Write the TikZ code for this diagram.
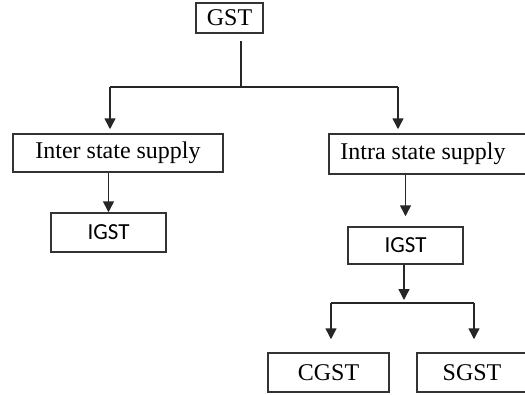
\documentclass[tikz,border=0pt]{standalone}
\usepackage{fontspec}
\setmainfont{Liberation Serif}
\newfontfamily\calfont{Carlito}
\usetikzlibrary{arrows.meta}
\begin{document}
\begin{tikzpicture}[x=1pt,y=-1pt,
  box/.style={draw=black!80,line width=1.5pt,inner sep=0pt,font=\fontsize{24}{27}\selectfont},
  sbox/.style={box,font=\calfont\fontsize{23}{26}\selectfont},
  conn/.style={line width=1.5pt,draw=black!85},
  arr/.style={conn,-{Triangle[length=11pt,width=11pt]}}]
\useasboundingbox (0,0) rectangle (525,394);
\fill[white] (0,0) rectangle (525,394);
\node[box,minimum width=67pt,minimum height=30pt] (gst) at (229.5,18) {GST};
\node[box,minimum width=210pt,minimum height=38pt] (inter) at (118,153) {Inter state supply};
\node[box,minimum width=198pt,minimum height=40pt] (intra) at (428,154) {\hspace*{-10pt}Intra state supply};
\node[sbox,minimum width=115pt,minimum height=39pt] (igsta) at (108.5,232.5) {IGST};
\node[sbox,minimum width=115pt,minimum height=37pt] (igstb) at (405.5,245.5) {IGST};
\node[box,minimum width=121pt,minimum height=39pt] (cgst) at (328.5,372.5) {CGST};
\node[box,minimum width=110pt,minimum height=39pt] (sgst) at (472,372.5) {SGST};
\coordinate (j1) at (241,87);
\coordinate (jl) at (110,87);
\coordinate (jr) at (398,87);
\coordinate (j2) at (404,303);
\coordinate (j2l) at (331,303);
\coordinate (j2r) at (474,303);
\draw[conn,shorten <=7pt] (gst.south -| j1) -- (j1);
\draw[conn] (jl) -- (jr);
\draw[arr,shorten >=4pt] (jl) -- (inter.north -| jl);
\draw[arr,shorten >=4pt] (jr) -- (intra.north -| jr);
\draw[arr] (inter.south -| igsta.north) -- (igsta.north);
\draw[arr,shorten >=10pt] (intra.south -| igstb.north) -- (igstb.north);
\draw[arr,shorten >=3pt] (igstb.south -| j2) -- (j2);
\draw[conn] (j2l) -- (j2r);
\draw[arr,shorten >=13pt] (j2l) -- (cgst.north -| j2l);
\draw[arr,shorten >=13pt] (j2r) -- (sgst.north -| j2r);
\end{tikzpicture}
\end{document}
